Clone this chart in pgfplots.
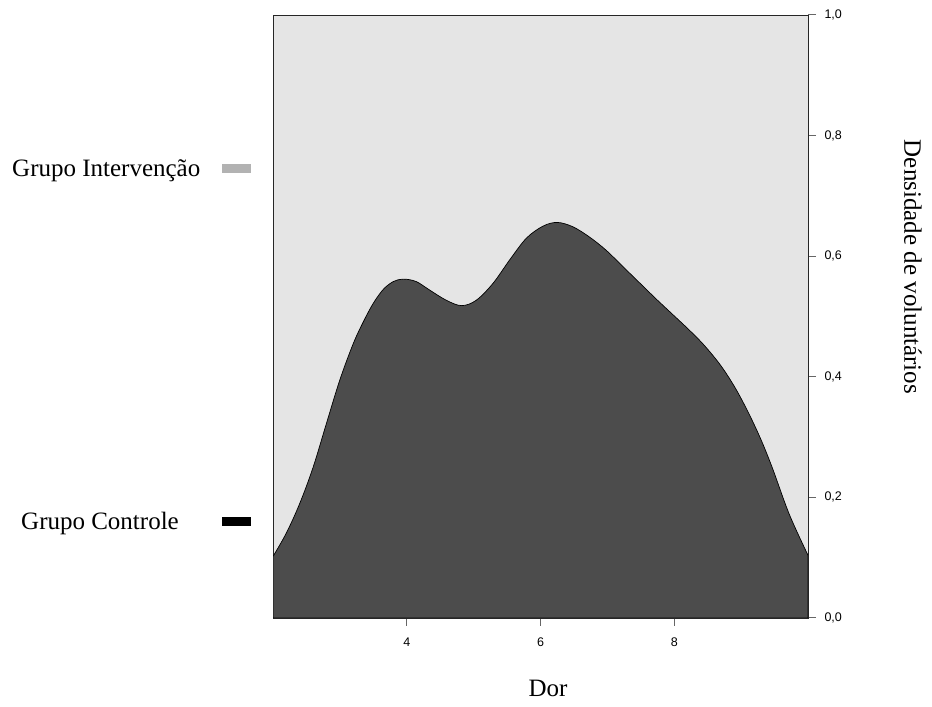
\documentclass[border=0pt]{standalone}
\usepackage{fontspec}
\setmainfont{Liberation Serif}
\newfontfamily\sansf{Liberation Sans}
\usepackage{pgfplots}
\pgfplotsset{compat=1.18}
\begin{document}
\begin{tikzpicture}[x=1pt,y=1pt]
\path[use as bounding box] (0,0) rectangle (932,707);
\begin{axis}[
  at={(273pt,89pt)}, anchor=south west,
  scale only axis, width=535pt, height=603pt,
  xmin=2, xmax=10, ymin=0, ymax=1,
  xtick={4,6,8}, ytick={0,0.2,0.4,0.6,0.8,1},
  xtick pos=lower, ytick pos=right, yticklabel pos=right,
  tick align=outside,
  major tick length=8pt,
  tick style={black!60, line width=1pt},
  axis line style={black!85, line width=0.8pt},
  axis background/.style={fill=black!10},
  /pgf/number format/assume math mode=true,
  /pgf/number format/.cd, use comma, fixed, fixed zerofill, precision=1,
  /pgfplots/.cd,
  xticklabel style={/pgf/number format/precision=0, /pgf/number format/fixed zerofill=false},
  ticklabel style={font=\sansf\fontsize{12.5}{15}\selectfont},
  xticklabel style={yshift=-8pt},
  yticklabel style={xshift=5pt},
]
\addplot[fill=black!70, draw=black, line width=0.7pt, smooth, tension=0.55] coordinates {
(2.00,0.102) (2.20,0.141) (2.40,0.190) (2.60,0.250) (2.80,0.323) (3.00,0.395)
(3.20,0.455) (3.35,0.491) (3.50,0.522) (3.65,0.545) (3.80,0.558) (3.95,0.562)
(4.14,0.558) (4.34,0.544) (4.59,0.527) (4.82,0.518) (5.04,0.527) (5.29,0.555)
(5.54,0.594) (5.79,0.630) (6.04,0.650) (6.25,0.656) (6.48,0.649) (6.73,0.632)
(6.98,0.610) (7.23,0.583) (7.48,0.556) (7.73,0.529) (7.98,0.503) (8.22,0.478)
(8.45,0.452) (8.70,0.418) (8.92,0.380) (9.12,0.338) (9.30,0.295) (9.47,0.248)
(9.72,0.172) (10.00,0.104)
} \closedcycle;
\end{axis}
\node[anchor=base west, font=\fontsize{25}{30}\selectfont, inner sep=0pt] at (12,530) {Grupo Intervenção};
\fill[black!30] (222,534) rectangle (251,543);
\node[anchor=base west, font=\fontsize{25}{30}\selectfont, inner sep=0pt] at (21,177) {Grupo Controle};
\fill[black] (222,181) rectangle (251,190);
\node[font=\fontsize{25}{30}\selectfont, inner sep=0pt, anchor=base] at (548,10) {Dor};
\node[font=\fontsize{25}{30}\selectfont, inner sep=0pt, rotate=-90] at (913,440) {Densidade de voluntários};
\end{tikzpicture}
\end{document}
